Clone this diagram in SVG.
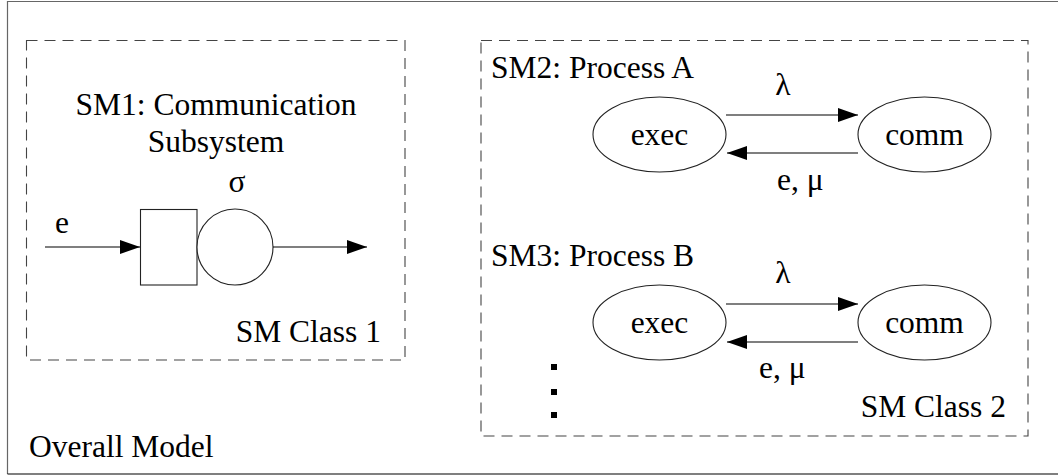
<svg xmlns="http://www.w3.org/2000/svg" width="1058" height="475" viewBox="0 0 1058 475">
  <style>
    text { font-family: "Times New Roman", "Liberation Serif", Times, serif; font-size: 31.5px; fill: #000; }
    .mid { text-anchor: middle; }
    .frame { fill: none; stroke-width: 1.2; }
    .dash { fill: none; stroke: #444; stroke-width: 1.1; stroke-dasharray: 11 7; }
    .shape { fill: #fff; stroke: #222; stroke-width: 1.1; }
    .edge { fill: none; stroke: #000; stroke-width: 1.2; }
  </style>
  <defs>
    <marker id="head" viewBox="0 0 20 14" refX="20" refY="7" markerWidth="20" markerHeight="14" markerUnits="userSpaceOnUse" orient="auto">
      <path d="M0,0 L20,7 L0,14 Z" fill="#000"/>
    </marker>
  </defs>
  <rect width="1058" height="475" fill="#fff"/>

  <!-- outer frame -->
  <g id="overall">
    <path class="frame" d="M7.5,474 V1.5 H1058" stroke="#666"/>
    <path class="frame" d="M7.5,474 H1058" stroke="#000"/>
    <text x="29" y="457">Overall Model</text>
  </g>

  <!-- class 1: queueing subsystem -->
  <g id="class1">
    <rect class="dash" x="26.5" y="40.5" width="378.5" height="319.5"/>
    <text x="381" y="342" text-anchor="end">SM Class 1</text>
  </g>
  <g id="sm1">
    <text class="mid" x="216" y="115">SM1: Communication</text>
    <text class="mid" x="216" y="152">Subsystem</text>
    <text class="mid" x="237" y="192">σ</text>
    <rect id="queue" class="shape" x="140.5" y="209.5" width="56.5" height="75.5"/>
    <circle id="server" class="shape" cx="235" cy="247" r="38"/>
  </g>

  <!-- class 2: processes -->
  <g id="class2">
    <rect class="dash" x="481" y="40.5" width="547" height="395.5"/>
    <text x="1006" y="417" text-anchor="end">SM Class 2</text>
    <g id="more" fill="#000">
      <rect x="551" y="364" width="6" height="6"/>
      <rect x="551" y="389" width="6" height="6"/>
      <rect x="551" y="412" width="6" height="6"/>
    </g>
  </g>
  <g id="sm2">
    <text x="491" y="78">SM2: Process A</text>
    <g id="sm2-exec">
      <ellipse class="shape" cx="659.5" cy="134.5" rx="66.5" ry="37.5"/>
      <text class="mid" x="659.5" y="145">exec</text>
    </g>
    <g id="sm2-comm">
      <ellipse class="shape" cx="924.5" cy="134.5" rx="66.5" ry="37.5"/>
      <text class="mid" x="924.5" y="145">comm</text>
    </g>
  </g>
  <g id="sm3">
    <text x="491" y="266">SM3: Process B</text>
    <g id="sm3-exec">
      <ellipse class="shape" cx="659.5" cy="322.5" rx="66.5" ry="37.5"/>
      <text class="mid" x="659.5" y="333">exec</text>
    </g>
    <g id="sm3-comm">
      <ellipse class="shape" cx="924.5" cy="322.5" rx="66.5" ry="37.5"/>
      <text class="mid" x="924.5" y="333">comm</text>
    </g>
  </g>

  <!-- connectors -->
  <g id="connectors">
    <line class="edge" x1="45" y1="247" x2="140" y2="247" marker-end="url(#head)"/>
    <text x="55" y="233">e</text>
    <line class="edge" x1="273" y1="247" x2="367" y2="247" marker-end="url(#head)"/>

    <line class="edge" x1="726" y1="115" x2="858" y2="115" marker-end="url(#head)"/>
    <line class="edge" x1="858" y1="153" x2="727" y2="153" marker-end="url(#head)"/>
    <text class="mid" x="783" y="95">λ</text>
    <text x="777" y="190">e, μ</text>

    <line class="edge" x1="726" y1="304" x2="858" y2="304" marker-end="url(#head)"/>
    <line class="edge" x1="858" y1="342" x2="727" y2="342" marker-end="url(#head)"/>
    <text class="mid" x="783" y="283">λ</text>
    <text x="759" y="378">e, μ</text>
  </g>
</svg>
